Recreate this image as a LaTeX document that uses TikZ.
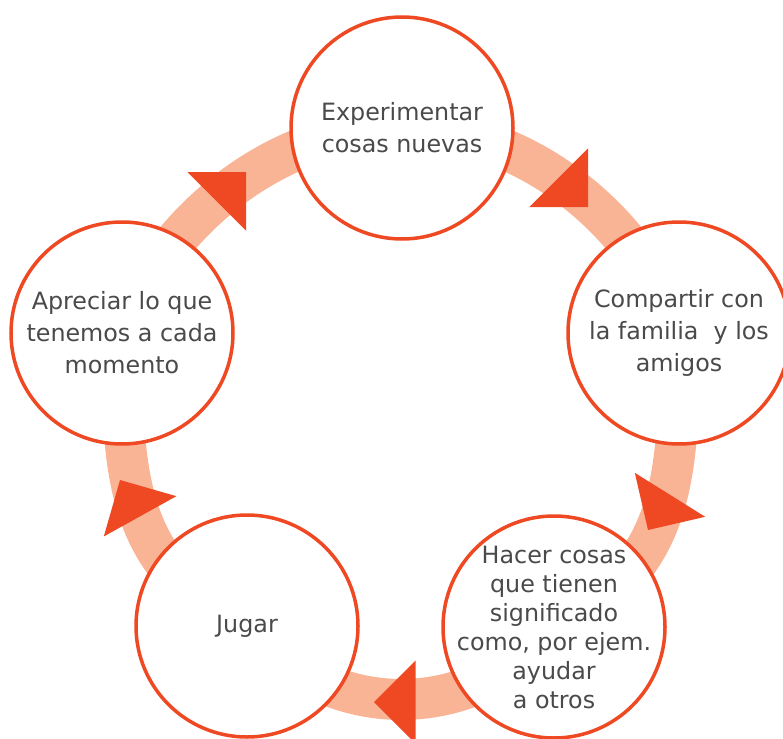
\documentclass[tikz,border=0pt]{standalone}
\usepackage{fontspec}
\setmainfont{DejaVu Sans}
\usetikzlibrary{backgrounds}
\definecolor{ringc}{HTML}{F9B496}
\definecolor{redc}{HTML}{EF4923}
\definecolor{textc}{HTML}{4A4A4A}
\begin{document}
\begin{tikzpicture}[x=1pt,y=-1pt,
  stage/.style={circle, draw=redc, line width=3.5pt, fill=white,
    minimum size=222pt, inner sep=0pt, align=center, text=textc,
    font=\fontsize{23.8}{32}\selectfont},
  band/.style={draw=ringc, line width=41pt},
  tri/.style={fill=redc}]
\useasboundingbox (0,0) rectangle (783,738);
\node[stage] (exp) at (402,128) {Experimentar\\cosas nuevas};
\node[stage] (com) at (679,333) {Compartir con\\la familia~ y los\\amigos};
\node[stage, inner sep=-30pt, font=\fontsize{23.8}{29}\selectfont] (hac) at (554,627)
  {Hacer cosas\\que tienen\\significado\\como, por ejem.\\ayudar\\a otros};
\node[stage] (jug) at (247,626) {Jugar};
\node[stage] (apr) at (122,333) {Apreciar lo que\\tenemos a cada\\momento};
\begin{pgfonlayer}{background}
\draw[band] (apr.center) .. controls +(290:122) and +(180:122) .. (exp.center);
\draw[band] (exp.center) .. controls +(0:122) and +(250:122) .. (com.center);
\draw[band] (com.center) .. controls +(90:137) and +(335:137) .. (hac.center);
\draw[band] (hac.center) .. controls +(130:127) and +(50:127) .. (jug.center);
\draw[band] (jug.center) .. controls +(205:137) and +(90:137) .. (apr.center);
\foreach \x/\y/\t in {246/172/315, 588/207/45, 648/530/122, 374/702/180, 120/480/241}
  \fill[tri] (\x,\y) -- +(\t+135:58.7) -- +(\t+225:58.7) -- cycle;
\end{pgfonlayer}
\end{tikzpicture}
\end{document}
